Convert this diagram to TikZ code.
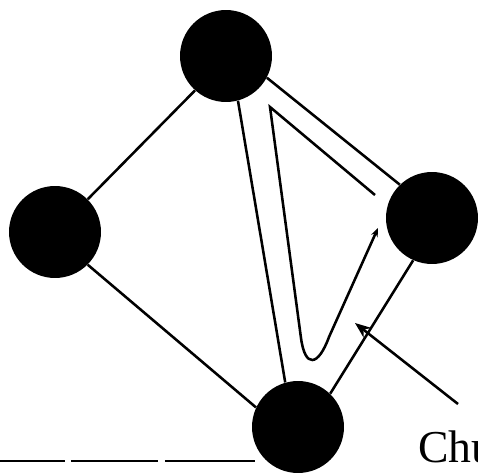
\documentclass[tikz,border=0pt]{standalone}
\usepackage{fontspec}
\setmainfont{Liberation Serif}
\usetikzlibrary{arrows.meta}

\begin{document}
\begin{tikzpicture}[x=0.02cm, y=-0.02cm,
    ball/.style={circle, fill=black, inner sep=0pt, minimum size=1.84cm},
    link/.style={line width=1.45pt},
    lbl/.style={font=\fontsize{26}{30}\selectfont, inner sep=0pt, anchor=base west}]
  \useasboundingbox (0,0) rectangle (478,474);
  % base line
  \draw[line width=0.8pt, dash pattern=on 1.3cm off 0.12cm on 1.74cm off 0.14cm on 1.8cm off 0.2cm] (0,461) -- (258,461);
  % balls
  \node[ball] (top) at (226,56) {};
  \node[ball] (left) at (55,232) {};
  \node[ball] (right) at (432,218) {};
  \node[ball] (bottom) at (298,427) {};
  % links
  \draw[link] (left.45) -- (top.228);
  \draw[link] (left.-45) -- (bottom.155);
  \draw[link] (top.-28) -- (right.134);
  \draw[link] (top.-75) -- (bottom.106);
  \draw[link] (right.246) -- (bottom.46);
  % loop
  \draw[link, -{Stealth[length=5pt, width=4pt]}] (375,195) -- (270,107) -- (301,338)
    .. controls (305,368) and (318,367) .. (329,337) -- (378,228);
  % label
  \node[lbl] (chu) at (418,462) {Chu};
  \coordinate (chutail) at (458,404);
  \coordinate (chutip) at (355,323);
  \draw[link, -{Stealth[length=9pt, width=7pt]}] (chutail) -- (chutip);
\end{tikzpicture}
\end{document}
